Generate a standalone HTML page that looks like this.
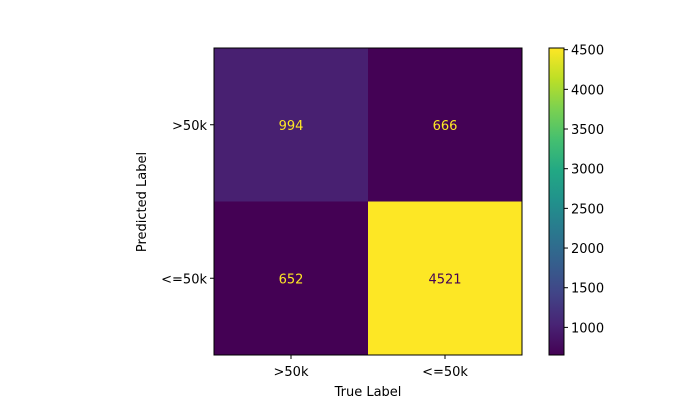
<!DOCTYPE html>
<html><head><meta charset="utf-8"><style>
body{margin:0;background:#fff;}
svg text{font-family:"DejaVu Sans","Liberation Sans",sans-serif;font-size:13px;}
</style></head><body>
<svg id="chart" width="700" height="400" xmlns="http://www.w3.org/2000/svg">
<defs>
<linearGradient id="vir" x1="0" y1="1" x2="0" y2="0">
<stop offset="0" stop-color="#440154"/><stop offset="0.1" stop-color="#482475"/>
<stop offset="0.2" stop-color="#414487"/><stop offset="0.3" stop-color="#355f8d"/>
<stop offset="0.4" stop-color="#2a788e"/><stop offset="0.5" stop-color="#21918c"/>
<stop offset="0.6" stop-color="#22a884"/><stop offset="0.7" stop-color="#44bf70"/>
<stop offset="0.8" stop-color="#7ad151"/><stop offset="0.9" stop-color="#bddf26"/>
<stop offset="1" stop-color="#fde725"/>
</linearGradient>
</defs>
<g id="cells"></g>
<rect x="214" y="48" width="308" height="307" fill="none" stroke="#000" stroke-width="1"/>
<g id="axes"></g>
<text x="368" y="396" text-anchor="middle">True Label</text>
<text x="146" y="202" text-anchor="middle" transform="rotate(-90 146 202)">Predicted Label</text>
<rect x="549" y="48" width="15" height="307" fill="url(#vir)" stroke="#000" stroke-width="1"/>
<g id="cbticks"></g>
</svg>
<script>
const xCats = [">50k", "<=50k"];
const yCats = [">50k", "<=50k"];
const values = [[994, 666], [652, 4521]];
const cbTicks = [1000, 1500, 2000, 2500, 3000, 3500, 4000, 4500];

const NS = "http://www.w3.org/2000/svg";
const L = 214, T = 48, W = 308, H = 307;
const cw = W / xCats.length, ch = H / yCats.length;
const flat = values.flat();
const vmin = Math.min(...flat), vmax = Math.max(...flat);
const vir = [[68,1,84],[72,36,117],[65,68,135],[53,95,141],[42,120,142],[33,145,140],[34,168,132],[68,191,112],[122,209,81],[189,223,38],[253,231,37]];
function color(v){
  let t = (v - vmin) / (vmax - vmin); t = Math.max(0, Math.min(1, t));
  const p = t * 10, i = Math.min(9, Math.floor(p)), f = p - i;
  const c = vir[i].map((a, k) => Math.round(a + (vir[i+1][k] - a) * f));
  return `rgb(${c[0]},${c[1]},${c[2]})`;
}
function el(tag, attrs, parent){ const e = document.createElementNS(NS, tag); for (const k in attrs) e.setAttribute(k, attrs[k]); parent.appendChild(e); return e; }
const cells = document.getElementById('cells');
values.forEach((row, r) => row.forEach((v, c) => {
  const rect = el('rect', {x: L + c*cw, y: T + r*ch, width: cw + 0.5, height: ch + 0.5, fill: color(v)}, cells);
  
  
  const t = el('text', {x: L + c*cw + cw/2, y: T + r*ch + ch/2 + 5, 'text-anchor': 'middle', fill: (v - vmin)/(vmax - vmin) > 0.5 ? '#440154' : '#fde725'}, cells);
  t.textContent = v;
  
  
}));
const axes = document.getElementById('axes');
xCats.forEach((c, i) => {
  const x = L + i*cw + cw/2;
  el('line', {x1: x, y1: T+H, x2: x, y2: T+H+4, stroke: '#000'}, axes);
  const t = el('text', {x: x, y: T+H+21, 'text-anchor': 'middle'}, axes);
  t.textContent = c;
  
  
});
yCats.forEach((c, i) => {
  const y = T + i*ch + ch/2;
  el('line', {x1: L-4, y1: y, x2: L, y2: y, stroke: '#000'}, axes);
  const t = el('text', {x: L-7, y: y+5, 'text-anchor': 'end'}, axes);
  t.textContent = c;
  
  
});
const cb = document.getElementById('cbticks');
cbTicks.forEach(v => {
  const y = T + H - (v - vmin) / (vmax - vmin) * H;
  el('line', {x1: 564, y1: y, x2: 568, y2: y, stroke: '#000'}, cb);
  const t = el('text', {x: 571, y: y+5}, cb);
  t.textContent = v;
  
  
});
</script>
</body></html>
